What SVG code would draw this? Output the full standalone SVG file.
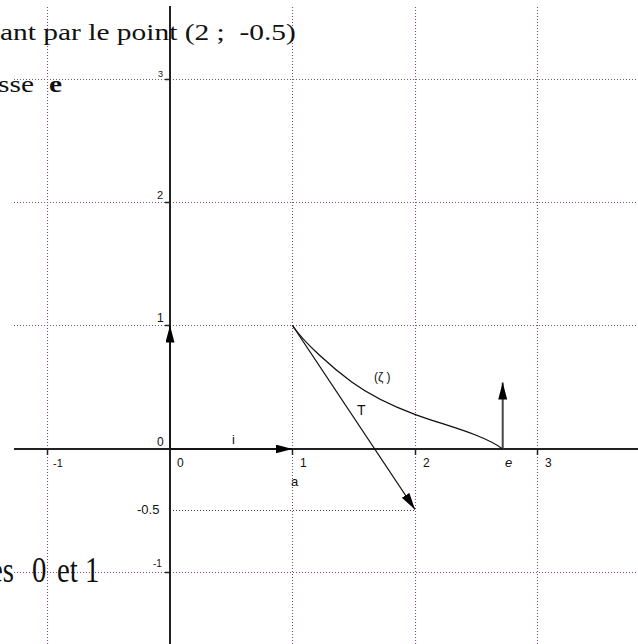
<svg xmlns="http://www.w3.org/2000/svg" width="638" height="644" viewBox="0 0 638 644">
<style>
.grid{stroke:#7e4e7e;stroke-width:1.1;stroke-dasharray:1 2;fill:none}
.half{stroke:#444;stroke-width:1.1;stroke-dasharray:1 2;fill:none}
.axis{stroke:#222;stroke-width:2;fill:none}
.tick{stroke:#222;stroke-width:1.5}
.lbl{font-family:"Liberation Sans",Arial,sans-serif;fill:#111}
.serif{font-family:"Liberation Serif","Times New Roman",serif;fill:#111}
.curve{stroke:#111;stroke-width:1.3;fill:none}
.vec{stroke:#111;stroke-width:1.3;fill:none}
</style>
<defs>
<marker id="ah" markerUnits="userSpaceOnUse" markerWidth="18" markerHeight="10" refX="17" refY="4.5" orient="auto">
<path d="M0,0 L17,4.5 L0,9 z" fill="#000"/>
</marker>
</defs>
<rect width="638" height="644" fill="#fff"/>
<g id="grid">
<line class="grid" x1="47.5" y1="7" x2="47.5" y2="644"/>
<line class="grid" x1="292.5" y1="7" x2="292.5" y2="644"/>
<line class="grid" x1="415.5" y1="7" x2="415.5" y2="644"/>
<line class="grid" x1="537.5" y1="7" x2="537.5" y2="644"/>
<line class="grid" x1="14" y1="79.5" x2="638" y2="79.5"/>
<line class="grid" x1="14" y1="202.5" x2="638" y2="202.5"/>
<line class="grid" x1="14" y1="325.5" x2="638" y2="325.5"/>
<line class="grid" x1="14" y1="572.5" x2="638" y2="572.5"/>
<line class="half" x1="170" y1="510.5" x2="415.5" y2="510.5"/>
</g>
<g id="axes">
<line class="axis" x1="14" y1="449" x2="638" y2="449"/>
<line class="axis" x1="170" y1="6" x2="170" y2="644"/>
<line class="tick" x1="47.5" y1="449" x2="47.5" y2="455"/>
<line class="tick" x1="292.5" y1="449" x2="292.5" y2="455"/>
<line class="tick" x1="415.5" y1="449" x2="415.5" y2="455"/>
<line class="tick" x1="537.5" y1="449" x2="537.5" y2="455"/>
<line class="tick" x1="165" y1="79.5" x2="170" y2="79.5"/>
<line class="tick" x1="165" y1="202.5" x2="170" y2="202.5"/>
<line class="tick" x1="165" y1="325.5" x2="170" y2="325.5"/>
<line class="tick" x1="165" y1="572.5" x2="170" y2="572.5"/>
</g>
<g id="connectors">
<line class="vec" x1="170" y1="449" x2="292.5" y2="449" marker-end="url(#ah)"/>
<line class="vec" x1="170" y1="449" x2="170" y2="325.5" marker-end="url(#ah)"/>
<line class="vec" x1="292.5" y1="325.5" x2="415" y2="509.5" marker-end="url(#ah)"/>
<line x1="502.7" y1="449" x2="502.7" y2="382.5" stroke="#444" stroke-width="2" marker-end="url(#ah)"/>
<path class="curve" d="M292.5,325.5 C304.3,343 331.7,367.4 351.7,382 C372.7,397.3 393.7,406.5 414.7,414.3 C444.7,425.4 483.3,434.3 502.7,449"/>
</g>
<g id="axis-labels" class="lbl">
<text x="157" y="446" font-size="12">0</text>
<text x="177" y="467" font-size="12">0</text>
<text x="53" y="467" font-size="11">-1</text>
<text x="300" y="467" font-size="12">1</text>
<text x="423" y="467" font-size="12">2</text>
<text x="545" y="467" font-size="12">3</text>
<text x="505" y="467" font-size="13" font-style="italic">e</text>
<text x="291" y="486" font-size="13">a</text>
<text x="232" y="444" font-size="13">i</text>
<text x="137" y="514" font-size="13">-0.5</text>
<text x="157" y="322" font-size="12">1</text>
<text x="157" y="199" font-size="11">2</text>
<text x="158" y="77" font-size="9">3</text>
<text x="153" y="567" font-size="10">-1</text>
<text x="374" y="381" font-size="12">(ζ )</text>
<text x="357" y="415" font-size="14">T</text>
</g>
<g id="header-text" class="serif" transform="scale(1.28,1)">
<text x="0" y="40" font-size="23" xml:space="preserve">ant par le point (2 ;  -0.5)</text>
<text x="-1.5" y="92" font-size="23">sse</text>
<text x="38.3" y="92" font-size="23" font-weight="bold">e</text>
</g>
<g id="footer-text" class="serif" transform="scale(0.8,1)">
<text y="582" font-size="36"><tspan x="-12.5">es</tspan><tspan x="40">0</tspan><tspan x="71.25">et</tspan><tspan x="106.25">1</tspan></text>
</g>
</svg>
